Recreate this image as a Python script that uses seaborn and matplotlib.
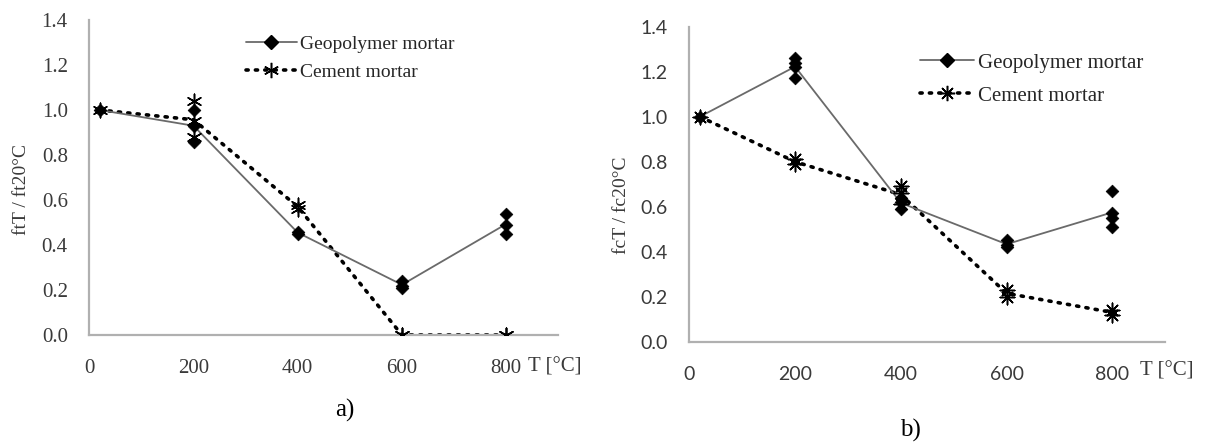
import numpy as np
import pandas as pd
import matplotlib
matplotlib.use("Agg")
import matplotlib.pyplot as plt
from matplotlib.lines import Line2D
import seaborn as sns

# ---------------- data ----------------
# panel a) tensile strength ratio
a_geo_T = [20, 200, 200, 200, 400, 400, 600, 600, 600, 800, 800, 800]
a_geo_v = [1.00, 1.00, 0.93, 0.86, 0.46, 0.45, 0.24, 0.22, 0.21, 0.54, 0.49, 0.45]
a_cem_T = [20, 200, 200, 200, 400, 400, 600, 600, 800, 800]
a_cem_v = [1.00, 1.04, 0.95, 0.88, 0.58, 0.56, 0.00, 0.00, 0.00, 0.00]
# panel b) compressive strength ratio
b_geo_T = [20, 200, 200, 200, 200, 400, 400, 400, 600, 600, 600, 800, 800, 800, 800]
b_geo_v = [1.00, 1.26, 1.24, 1.22, 1.17, 0.64, 0.62, 0.59, 0.45, 0.43, 0.42, 0.67, 0.57, 0.55, 0.51]
b_cem_T = [20, 200, 200, 400, 400, 400, 600, 600, 800, 800]
b_cem_v = [1.00, 0.81, 0.79, 0.69, 0.66, 0.61, 0.23, 0.20, 0.14, 0.12]

x_ticks = [0, 200, 400, 600, 800]
y_ticks = [0.0, 0.2, 0.4, 0.6, 0.8, 1.0, 1.2, 1.4]
series_names = ["Geopolymer mortar", "Cement mortar"]
panel_labels = ["a)", "b)"]
y_labels = ["ftT / ft20°C", "fcT / fc20°C"]
x_label = "T [°C]"

sns.set_theme(style="white")
plt.rcParams["font.family"] = ["Liberation Serif", "DejaVu Sans"]

W, H = 1212, 444
fig = plt.figure(figsize=(W / 100, H / 100), dpi=100)
axA = fig.add_axes([89.3 / W, 1 - 335 / H, 469 / W, 315 / H])
axB = fig.add_axes([689.3 / W, 1 - 341.7 / H, 476 / W, 315 / H])

AX_COL = "#b0b0b0"
TXT_COL = "#3a3a3a"
GEO_LINE = "#6a6a6a"

def draw(ax, geo_T, geo_v, cem_T, cem_v, cem_marker, tick_font, tick_size):
    dg = pd.DataFrame({"T": geo_T, "v": geo_v})
    dc = pd.DataFrame({"T": cem_T, "v": cem_v})
    sns.lineplot(data=dc, x="T", y="v", estimator="mean", errorbar=None, ax=ax,
                 color="black", lw=2.6, linestyle=(0, (0.6, 2.0)),
                 dash_capstyle="round", zorder=2)
    sns.lineplot(data=dg, x="T", y="v", estimator="mean", errorbar=None, ax=ax,
                 color=GEO_LINE, lw=1.3, zorder=3)
    sns.scatterplot(data=dc, x="T", y="v", ax=ax, marker=cem_marker, s=110,
                    color="black", edgecolor="black", linewidth=1.1, zorder=4)
    sns.scatterplot(data=dg, x="T", y="v", ax=ax, marker="D", s=42,
                    color="black", edgecolor="black", linewidth=0.5, zorder=5)
    ax.set_xlim(0, 900)
    ax.set_ylim(0, 1.4)
    ax.set_xticks(x_ticks)
    ax.set_yticks(y_ticks)
    ax.set_yticklabels([f"{t:.1f}" for t in y_ticks], fontfamily=tick_font,
                       fontsize=tick_size, color=TXT_COL)
    ax.set_xticklabels([str(t) for t in x_ticks], fontfamily=tick_font,
                       fontsize=tick_size, color=TXT_COL)
    for s in ["top", "right"]:
        ax.spines[s].set_visible(False)
    for s in ["left", "bottom"]:
        ax.spines[s].set_color(AX_COL)
        ax.spines[s].set_linewidth(1.6)
    ax.tick_params(axis="both", direction="inout", length=11, width=1.6,
                   color=AX_COL)
    ax.tick_params(axis="x", pad=12)
    ax.tick_params(axis="y", pad=10)
    ax.set_xlabel("")
    ax.set_ylabel("")

draw(axA, a_geo_T, a_geo_v, a_cem_T, a_cem_v, (6, 2, 0), "Liberation Serif", 15)
draw(axB, b_geo_T, b_geo_v, b_cem_T, b_cem_v, (8, 2, 0), "Lato", 14)

# y labels
fig.text(22 / W, 1 - 189 / H, y_labels[0], rotation=90, fontsize=14,
         color=TXT_COL, ha="center", va="center", fontfamily="Liberation Serif")
fig.text(621 / W, 1 - 205 / H, y_labels[1], rotation=90, fontsize=14,
         color=TXT_COL, ha="center", va="center", fontfamily="Liberation Serif")

# x axis labels next to 800 tick
fig.text(528 / W, 1 - 367 / H, x_label, fontsize=15, color=TXT_COL,
         fontfamily="Liberation Serif", ha="left", va="center")
fig.text(1140 / W, 1 - 371 / H, x_label, fontsize=15, color=TXT_COL,
         fontfamily="Liberation Serif", ha="left", va="center")

# panel labels
fig.text(345 / W, 1 - 410 / H, panel_labels[0], fontsize=18, ha="center",
         va="center", color="black", fontfamily="Liberation Serif")
fig.text(910 / W, 1 - 430 / H, panel_labels[1], fontsize=18, ha="center",
         va="center", color="black", fontfamily="Liberation Serif")

# legends
def legend(ax, cem_marker, bbox, size, spacing):
    h = [Line2D([], [], color=GEO_LINE, lw=1.3, marker="D", markersize=7,
                markerfacecolor="black", markeredgecolor="black"),
         Line2D([], [], color="black", lw=2.6, linestyle=(0, (0.6, 2.0)),
                dash_capstyle="round", marker=cem_marker, markersize=11,
                markeredgewidth=1.1, markeredgecolor="black")]
    ax.legend(h, series_names, loc="upper left", bbox_to_anchor=bbox,
              bbox_transform=fig.transFigure, frameon=False,
              prop={"family": "Liberation Serif", "size": size},
              handlelength=2.6, handletextpad=0.2, labelspacing=spacing,
              borderpad=0, borderaxespad=0)

legend(axA, (6, 2, 0), (246 / W, 1 - 35 / H), 14, 0.55)
legend(axB, (8, 2, 0), (920 / W, 1 - 53 / H), 15, 0.65)

fig.savefig("out.png", dpi=100)
